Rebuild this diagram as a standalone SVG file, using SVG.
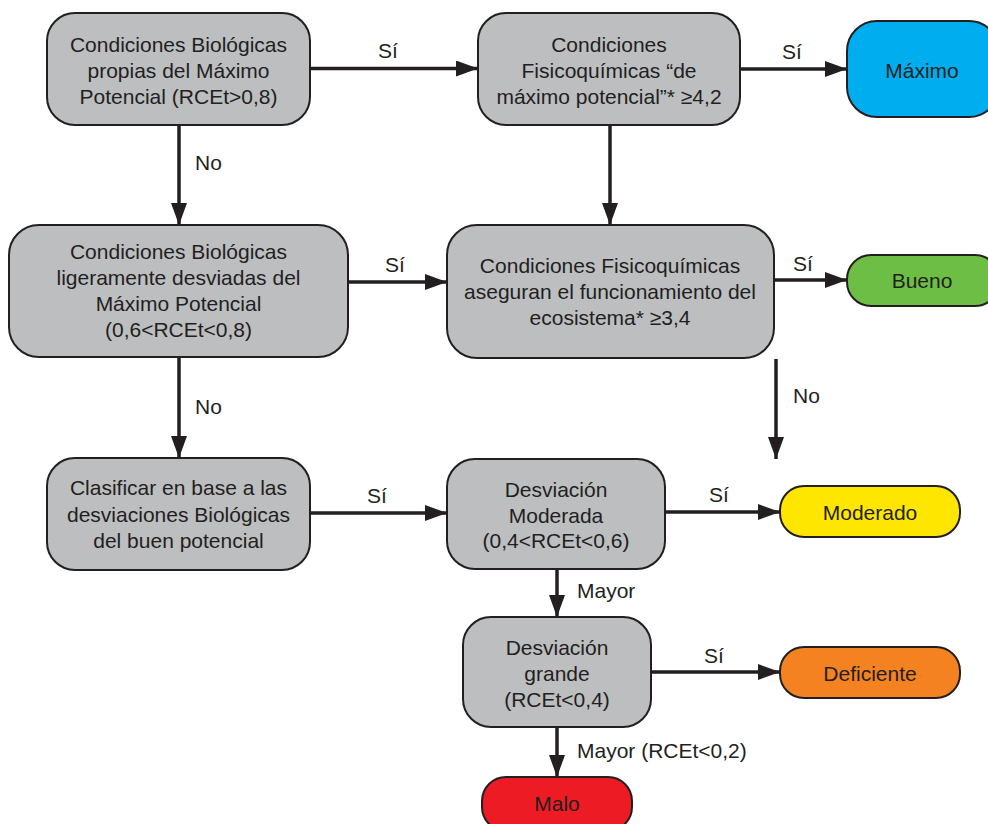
<svg xmlns="http://www.w3.org/2000/svg" width="988" height="824" viewBox="0 0 988 824">
<defs>
<style>
.n{stroke:#231f20;stroke-width:2}
.g{fill:#bcbec0}
.t{font-family:"Liberation Sans",Arial,Helvetica,sans-serif;font-size:21px;fill:#231f20;text-anchor:middle}
.l{font-family:"Liberation Sans",Arial,Helvetica,sans-serif;font-size:21px;fill:#231f20}
.c{stroke:#231f20;stroke-width:3.5;fill:none;marker-end:url(#ah)}
</style>
<marker id="ah" markerUnits="userSpaceOnUse" markerWidth="22" markerHeight="16" refX="22" refY="8" orient="auto">
<path d="M0,0 L22,8 L0,16 z" fill="#231f20"/>
</marker>
</defs>
<rect width="988" height="824" fill="#ffffff"/>
<g id="connectors">
<path class="c" d="M310,68.5 H478"/>
<path class="c" d="M740,69 H847"/>
<path class="c" d="M179,125 V225"/>
<path class="c" d="M610,125 V225"/>
<path class="c" d="M348,282 H447"/>
<path class="c" d="M774,280 H847"/>
<path class="c" d="M179,357 V458"/>
<path class="c" d="M776,359 V459"/>
<path class="c" d="M310,513 H447"/>
<path class="c" d="M665,512 H780"/>
<path class="c" d="M557,569 V617"/>
<path class="c" d="M651,672 H780"/>
<path class="c" d="M557,727 V777"/>
<text class="t" x="388" y="58">Sí</text>
<text class="t" x="792" y="59">Sí</text>
<text class="l" x="195" y="170">No</text>
<text class="t" x="395" y="272">Sí</text>
<text class="t" x="803" y="271">Sí</text>
<text class="l" x="195" y="414">No</text>
<text class="l" x="793" y="403">No</text>
<text class="t" x="377" y="503">Sí</text>
<text class="t" x="719" y="502">Sí</text>
<text class="l" x="577" y="598">Mayor</text>
<text class="t" x="714" y="663">Sí</text>
<text class="l" x="577" y="758">Mayor (RCEt&lt;0,2)</text>
</g>
<g id="bio-maximo">
<rect class="n g" x="47" y="13" width="263" height="112" rx="28"/>
<text class="t" x="178.5" y="52">Condiciones Biológicas</text>
<text class="t" x="178.5" y="78">propias del Máximo</text>
<text class="t" x="178.5" y="104">Potencial (RCEt&gt;0,8)</text>
</g>
<g id="fq-maximo">
<rect class="n g" x="478" y="13" width="262" height="112" rx="28"/>
<text class="t" x="609" y="52">Condiciones</text>
<text class="t" x="609" y="78">Fisicoquímicas “de</text>
<text class="t" x="609" y="104">máximo potencial”* ≥4,2</text>
</g>
<g id="maximo">
<rect class="n" x="847" y="21" width="152" height="96" rx="30" fill="#00aeef"/>
<text class="t" x="922" y="78">Máximo</text>
</g>
<g id="bio-ligera">
<rect class="n g" x="9" y="225" width="339" height="132" rx="30"/>
<text class="t" x="178.5" y="259">Condiciones Biológicas</text>
<text class="t" x="178.5" y="285">ligeramente desviadas del</text>
<text class="t" x="178.5" y="311">Máximo Potencial</text>
<text class="t" x="178.5" y="337">(0,6&lt;RCEt&lt;0,8)</text>
</g>
<g id="fq-funcionamiento">
<rect class="n g" x="447" y="225" width="327" height="133" rx="30"/>
<text class="t" x="610" y="273">Condiciones Fisicoquímicas</text>
<text class="t" x="610" y="299">aseguran el funcionamiento del</text>
<text class="t" x="610" y="325">ecosistema* ≥3,4</text>
</g>
<g id="bueno">
<rect class="n" x="847" y="255" width="152" height="51" rx="24" fill="#6dbe45"/>
<text class="t" x="922" y="288">Bueno</text>
</g>
<g id="clasificar">
<rect class="n g" x="47" y="458" width="263" height="112" rx="28"/>
<text class="t" x="178.5" y="495">Clasificar en base a las</text>
<text class="t" x="178.5" y="522">desviaciones Biológicas</text>
<text class="t" x="178.5" y="548">del buen potencial</text>
</g>
<g id="desv-moderada">
<rect class="n g" x="447" y="459" width="218" height="110" rx="28"/>
<text class="t" x="556" y="497">Desviación</text>
<text class="t" x="556" y="523">Moderada</text>
<text class="t" x="556" y="548">(0,4&lt;RCEt&lt;0,6)</text>
</g>
<g id="moderado">
<rect class="n" x="780" y="486" width="180" height="51" rx="24" fill="#ffe600"/>
<text class="t" x="870" y="520">Moderado</text>
</g>
<g id="desv-grande">
<rect class="n g" x="463" y="617" width="188" height="110" rx="28"/>
<text class="t" x="557" y="655">Desviación</text>
<text class="t" x="557" y="681">grande</text>
<text class="t" x="557" y="707">(RCEt&lt;0,4)</text>
</g>
<g id="deficiente">
<rect class="n" x="780" y="647" width="180" height="51" rx="24" fill="#f58220"/>
<text class="t" x="870" y="681">Deficiente</text>
</g>
<g id="malo">
<rect class="n" x="482" y="777" width="150" height="54" rx="24" fill="#ed1c24"/>
<text class="t" x="557" y="811">Malo</text>
</g>
</svg>
